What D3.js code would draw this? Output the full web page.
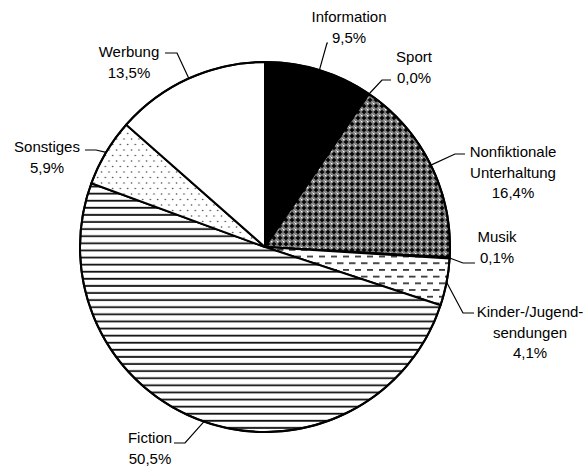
<!DOCTYPE html>
<html>
<head>
<meta charset="utf-8">
<script src="https://cdn.jsdelivr.net/npm/d3@7"></script>
<style>
  body { margin: 0; background: #fff; }
  svg text { font-family: "Liberation Sans", Arial, sans-serif; font-size: 15px; fill: #000; }
</style>
</head>
<body>
<svg width="585" height="468"></svg>
<script>
// data (share of broadcast time, %)
const categories = ['Information', 'Sport', 'Nonfiktionale Unterhaltung', 'Musik',
  'Kinder-/Jugendsendungen', 'Fiction', 'Sonstiges', 'Werbung'];
const values = [9.5, 0.0, 16.4, 0.1, 4.1, 50.5, 5.9, 13.5];
const valueLabels = ['9,5%', '0,0%', '16,4%', '0,1%', '4,1%', '50,5%', '5,9%', '13,5%'];

// how each label is written and where it sits
const labelLines = [
  ['Information'], ['Sport'], ['Nonfiktionale', 'Unterhaltung'], ['Musik'],
  ['Kinder-/Jugend-', 'sendungen'], ['Fiction'], ['Sonstiges'], ['Werbung']
];
const labelLayout = [
  { bend: [327, 43], end: [328, 43], x: 349, y: 22 },
  { bend: [382, 80], end: [391, 80], x: 414, y: 62 },
  { bend: [455, 154], end: [465, 154], x: 513, y: 157 },
  { bend: [463, 263], end: [475, 263], x: 497, y: 242 },
  { bend: [463, 313], end: [474, 313], x: 530, y: 317 },
  { bend: [185, 443], end: [174, 443], x: 150, y: 443 },
  { bend: [96, 150], end: [85, 150], x: 47, y: 152 },
  { bend: [177, 53], end: [165, 53], x: 129, y: 57 }
];
const fills = ['#000', '#fff', 'url(#checker)', '#fff', 'url(#dashes)', 'url(#hlines)', 'url(#dots)', '#fff'];

const svg = d3.select('svg');
const cx = 265, cy = 247, r = 185;
const lineH = 20.5;

// fill patterns
const defs = svg.append('defs');

const checker = defs.append('pattern').attr('id', 'checker')
  .attr('patternUnits', 'userSpaceOnUse').attr('width', 6).attr('height', 6);
checker.append('rect').attr('width', 6).attr('height', 6).attr('fill', '#808080');
checker.append('rect').attr('x', 2.2).attr('y', 0.8).attr('width', 1.6).attr('height', 4.4).attr('fill', '#000');
checker.append('rect').attr('x', 0.8).attr('y', 2.2).attr('width', 4.4).attr('height', 1.6).attr('fill', '#000');
checker.append('rect').attr('x', 0).attr('y', 0).attr('width', 1.3).attr('height', 1.3).attr('fill', '#fff');
checker.append('rect').attr('x', 5.3).attr('y', 5.3).attr('width', 0.7).attr('height', 0.7).attr('fill', '#fff');

const dashes = defs.append('pattern').attr('id', 'dashes')
  .attr('patternUnits', 'userSpaceOnUse').attr('width', 12).attr('height', 13.4);
dashes.append('rect').attr('width', 12).attr('height', 13.4).attr('fill', '#fff');
dashes.append('rect').attr('x', 0).attr('y', 2).attr('width', 6.5).attr('height', 1.6).attr('fill', '#222');
dashes.append('rect').attr('x', 6).attr('y', 8.7).attr('width', 6.5).attr('height', 1.6).attr('fill', '#222');

const hlines = defs.append('pattern').attr('id', 'hlines')
  .attr('patternUnits', 'userSpaceOnUse').attr('width', 8).attr('height', 7.1);
hlines.append('rect').attr('width', 8).attr('height', 7.1).attr('fill', '#fff');
hlines.append('rect').attr('x', 0).attr('y', 2.5).attr('width', 8).attr('height', 1.8).attr('fill', '#111');

const dots = defs.append('pattern').attr('id', 'dots')
  .attr('patternUnits', 'userSpaceOnUse').attr('width', 7.5).attr('height', 11);
dots.append('rect').attr('width', 7.5).attr('height', 11).attr('fill', '#fff');
dots.append('circle').attr('cx', 1.5).attr('cy', 2).attr('r', 0.8).attr('fill', '#444');
dots.append('circle').attr('cx', 5.25).attr('cy', 7.5).attr('r', 0.8).attr('fill', '#444');

const slices = d3.pie().sort(null).value(d => d)(values);
const arc = d3.arc().innerRadius(0).outerRadius(r);
const edge = d3.arc().innerRadius(r).outerRadius(r);

const g = svg.append('g').attr('transform', `translate(${cx},${cy})`);

g.selectAll('path.slice')
  .data(slices)
  .join('path')
  .classed('slice', true)
  .attr('d', arc)
  .attr('fill', (d, i) => fills[i])
  .attr('stroke', '#000')
  .attr('stroke-width', 2)
  .attr('stroke-linejoin', 'round');

// outer rim drawn again so it stays crisp
g.append('circle').attr('r', r).attr('fill', 'none').attr('stroke', '#000').attr('stroke-width', 2);

// leader lines
svg.selectAll('path.leader')
  .data(slices)
  .join('path')
  .classed('leader', true)
  .attr('fill', 'none')
  .attr('stroke', '#000')
  .attr('stroke-width', 1.2)
  .attr('d', (d, i) => {
    const p = edge.centroid(d);
    const L = labelLayout[i];
    return d3.line()([[cx + p[0], cy + p[1]], L.bend, L.end]);
  });

// labels
const labels = svg.selectAll('text.label')
  .data(categories)
  .join('text')
  .classed('label', true)
  .attr('text-anchor', 'middle');

labels.each(function(c, i) {
  const L = labelLayout[i];
  const lines = labelLines[i].concat([valueLabels[i]]);
  d3.select(this).selectAll('tspan')
    .data(lines)
    .join('tspan')
    .attr('x', L.x)
    .attr('y', (t, j) => L.y + j * lineH)
    .text(t => t);
});
</script>
</body>
</html>
